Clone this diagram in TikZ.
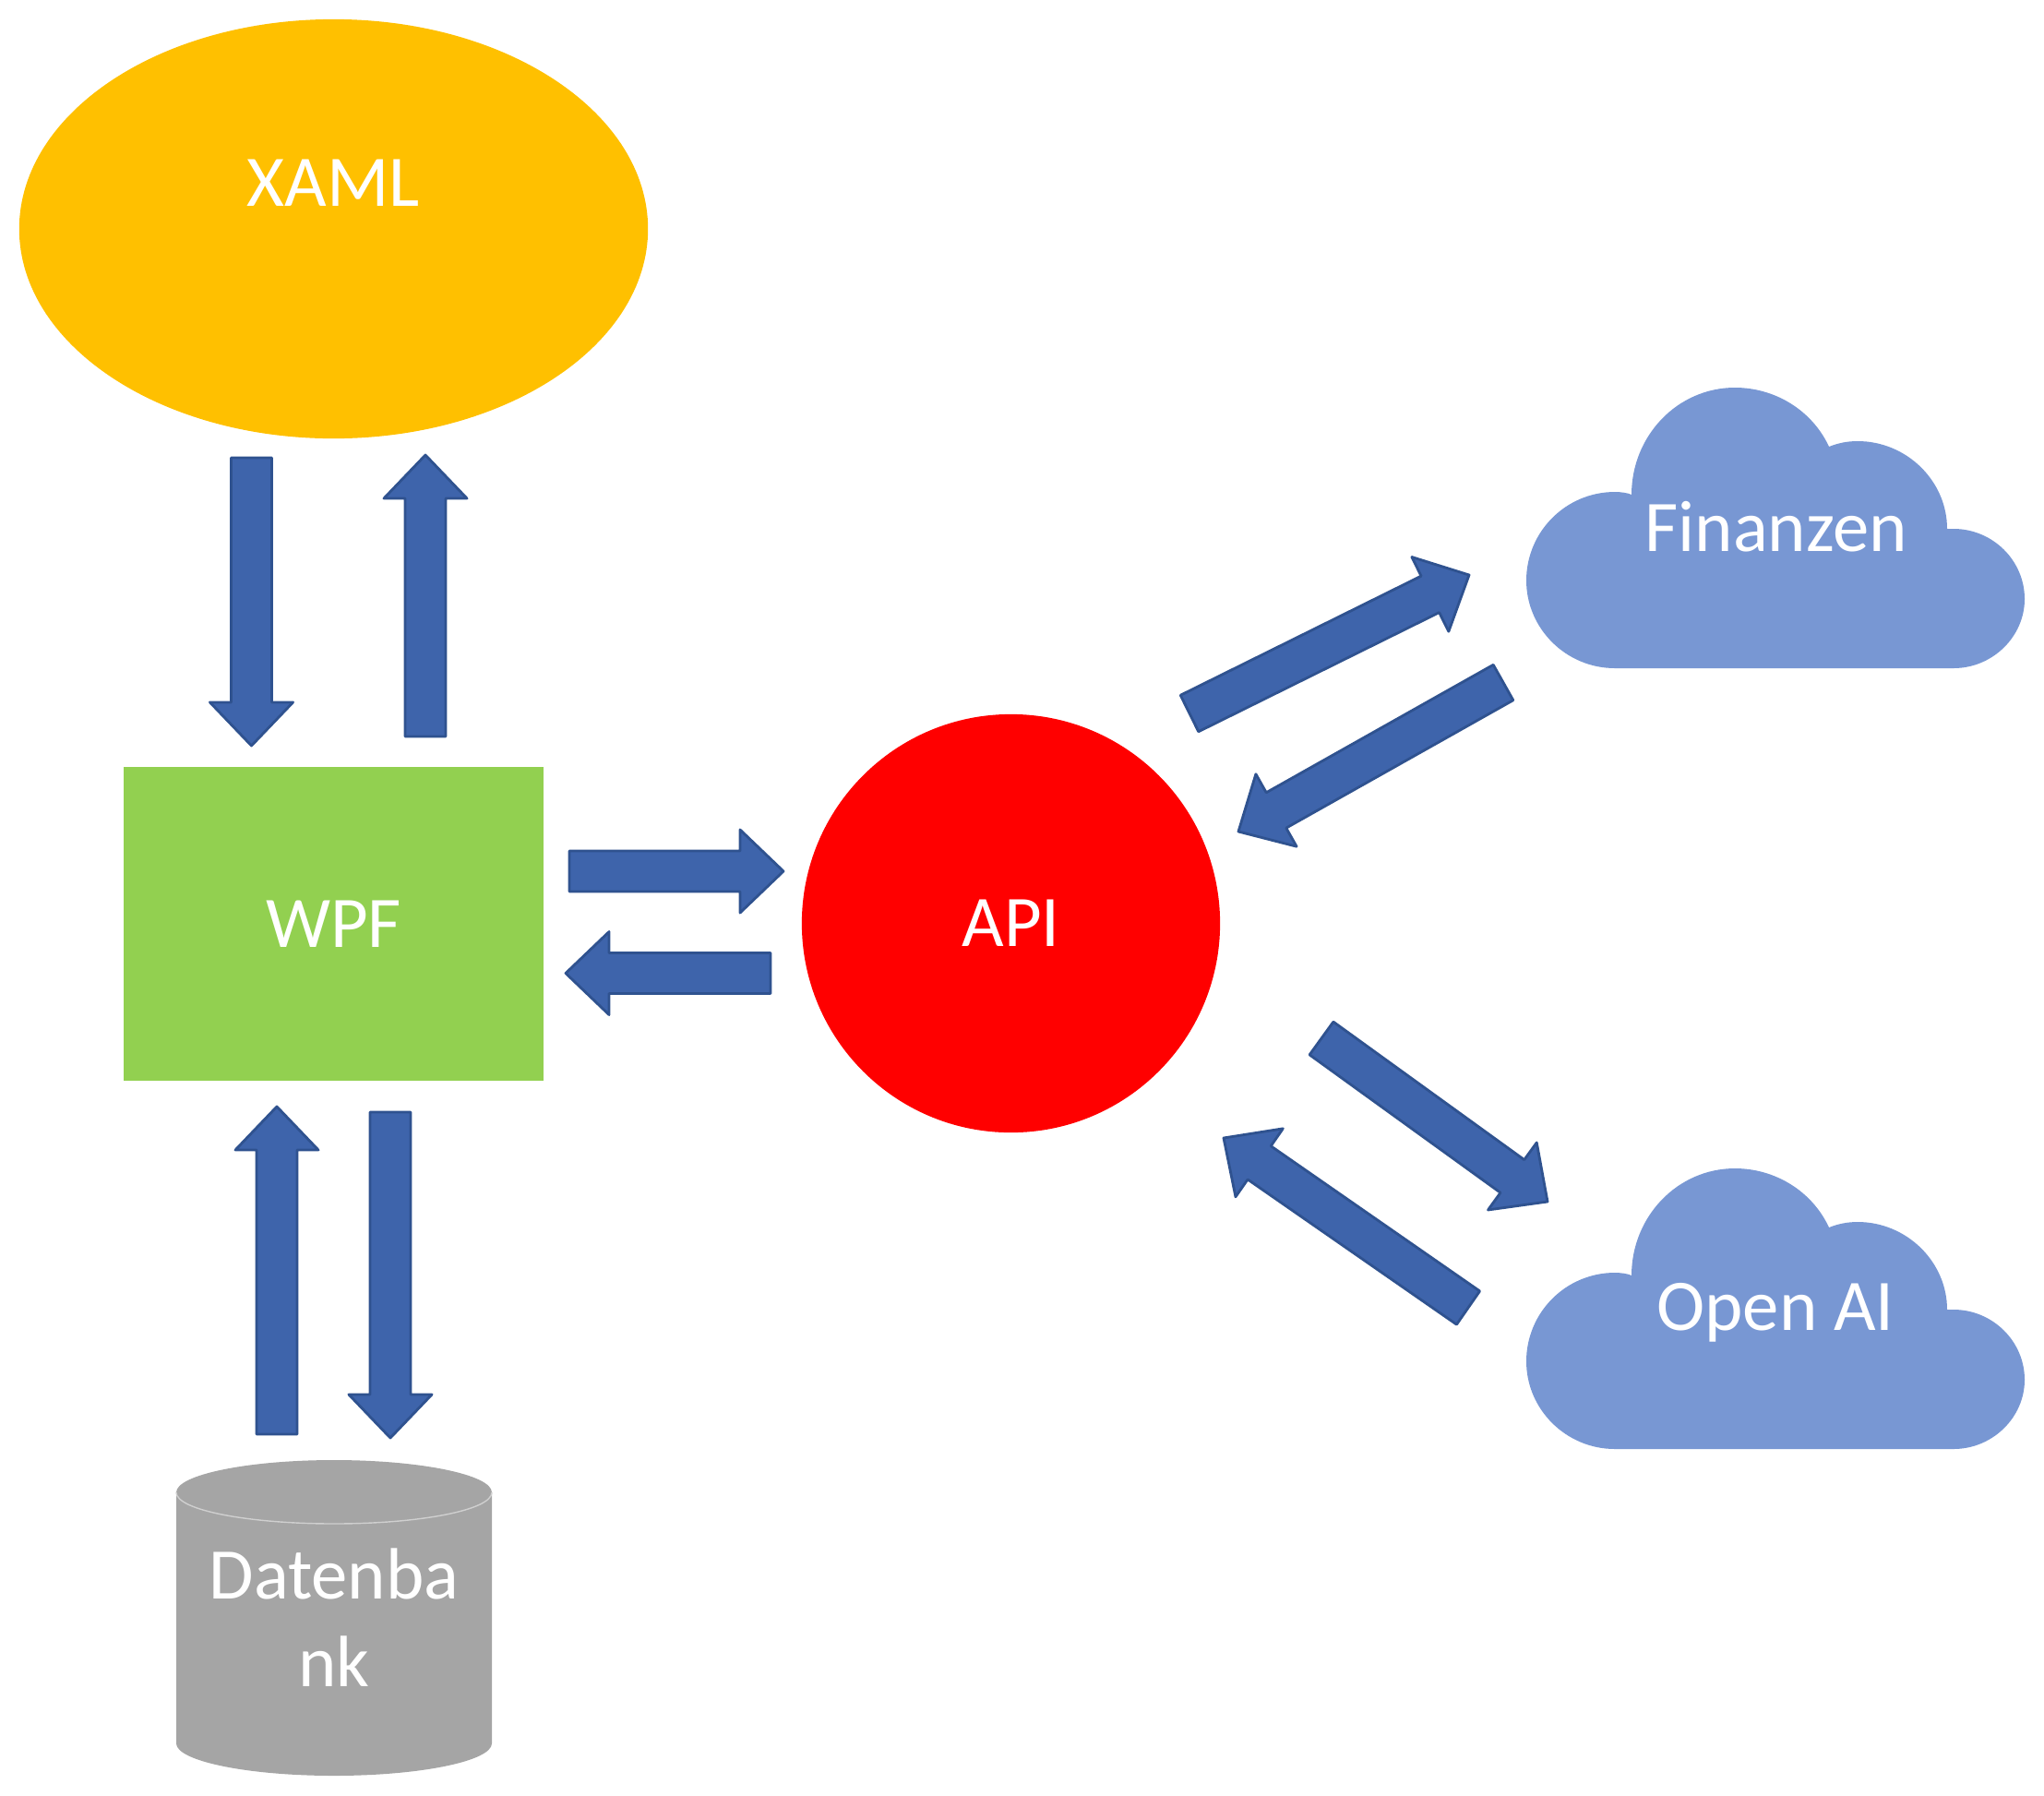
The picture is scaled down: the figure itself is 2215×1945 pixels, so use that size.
\documentclass[tikz,border=0pt]{standalone}
\usepackage{fontspec}
\setmainfont{Carlito}
\usetikzlibrary{shapes.geometric, calc}

\definecolor{xamlyellow}{HTML}{FFC000}
\definecolor{wpfgreen}{HTML}{92D050}
\definecolor{apired}{HTML}{FF0000}
\definecolor{cloudblue}{HTML}{7897D3}
\definecolor{dbgray}{HTML}{A5A5A5}
\definecolor{dbline}{HTML}{CFCFCF}
\definecolor{arrowblue}{HTML}{3E64AB}
\definecolor{arrowedge}{HTML}{2F528F}

\begin{document}
\begin{tikzpicture}[
    x=0.01cm, y=-0.01cm,
    blocktext/.style={text=white, inner sep=0pt, align=center, font=\fontsize{22.4}{27}\selectfont},
    blockarrow/.style={draw=arrowedge, fill=arrowblue, line width=0.8pt, line join=round, to path={
        -- ($(\tikztostart)!0.22cm!90:(\tikztotarget)$)
        -- ($(\tikztotarget)!0.519cm!-25.08:(\tikztostart)$)
        -- ($(\tikztotarget)!0.6507cm!-43.75:(\tikztostart)$)
        -- (\tikztotarget)
        -- ($(\tikztotarget)!0.6507cm!43.75:(\tikztostart)$)
        -- ($(\tikztotarget)!0.519cm!25.08:(\tikztostart)$)
        -- ($(\tikztostart)!0.22cm!-90:(\tikztotarget)$)
        -- cycle}},
    cloudshape/.pic={
        \fill[cloudblue] (96,304) -- (463,304)
            .. controls (505,304) and (540,270) .. (540,229)
            .. controls (540,187) and (505,153) .. (463,153) -- (456,153)
            .. controls (456,101) and (412,58) .. (359,58)
            .. controls (348,58) and (338,60) .. (328,64)
            .. controls (310,25) and (270,0) .. (226,0)
            .. controls (164,0) and (114,52) .. (114,116)
            .. controls (110,114) and (102,113) .. (96,113)
            .. controls (43,113) and (0,156) .. (0,209)
            .. controls (0,261) and (43,304) .. (96,304) -- cycle;
    }
]

\useasboundingbox (0,0) rectangle (2215,1945);

% Main shapes
\node[ellipse, fill=xamlyellow, inner sep=0pt, minimum width=6.81cm, minimum height=4.54cm] (xaml) at (361.5,248) {};
\node[blocktext] (xamltext) at (361,198) {XAML};
\node[blocktext, rectangle, fill=wpfgreen, minimum width=4.55cm, minimum height=3.4cm] (wpf) at (361.5,1001) {WPF};
\node[blocktext, circle, fill=apired, minimum size=4.53cm] (api) at (1095.5,1000.5) {API};

% Clouds
\pic (cloudfin) at (1654,420) {cloudshape};
\node[blocktext] (finanzen) at (1925,571) {Finanzen};
\pic (cloudai) at (1654,1266) {cloudshape};
\node[blocktext] (openai) at (1924,1422) {Open AI};

% Database
\fill[dbgray] (191,1617)
    .. controls (191,1598) and (268,1582) .. (362,1582)
    .. controls (456,1582) and (533,1598) .. (533,1617)
    -- (533,1889)
    .. controls (533,1908) and (456,1924) .. (362,1924)
    .. controls (268,1924) and (191,1908) .. (191,1889) -- cycle;
\draw[dbline, line width=0.4pt] (191,1617)
    .. controls (191,1636) and (268,1651) .. (362,1651)
    .. controls (456,1651) and (533,1636) .. (533,1617);
\node[blocktext] (db) at (362,1753) {Datenba\\nk};

% Arrow ends
\coordinate (xamlout) at (272.5,496);
\coordinate (wpfin) at (272.5,808);
\coordinate (wpfup) at (461,798);
\coordinate (xamlin) at (461,493);
\coordinate (wpfright) at (617,944);
\coordinate (apileft) at (849,944);
\coordinate (apiback) at (835,1054.5);
\coordinate (wpfback) at (613,1054.5);
\coordinate (dbup) at (300,1554);
\coordinate (wpfbottom) at (300,1199);
\coordinate (wpfdown) at (423,1205);
\coordinate (dbin) at (423,1558);
\coordinate (apifin) at (1289,773);
\coordinate (finin) at (1592,623);
\coordinate (finout) at (1629,739.5);
\coordinate (apifinback) at (1342,901);
\coordinate (apiai) at (1432,1125);
\coordinate (aiin) at (1677,1302);
\coordinate (aiout) at (1591,1417);
\coordinate (apiaiback) at (1326,1233);

% Block arrows
\draw[blockarrow] (xamlout) to (wpfin);
\draw[blockarrow] (wpfup) to (xamlin);
\draw[blockarrow] (wpfright) to (apileft);
\draw[blockarrow] (apiback) to (wpfback);
\draw[blockarrow] (dbup) to (wpfbottom);
\draw[blockarrow] (wpfdown) to (dbin);
\draw[blockarrow] (apifin) to (finin);
\draw[blockarrow] (finout) to (apifinback);
\draw[blockarrow] (apiai) to (aiin);
\draw[blockarrow] (aiout) to (apiaiback);

\end{tikzpicture}
\end{document}
